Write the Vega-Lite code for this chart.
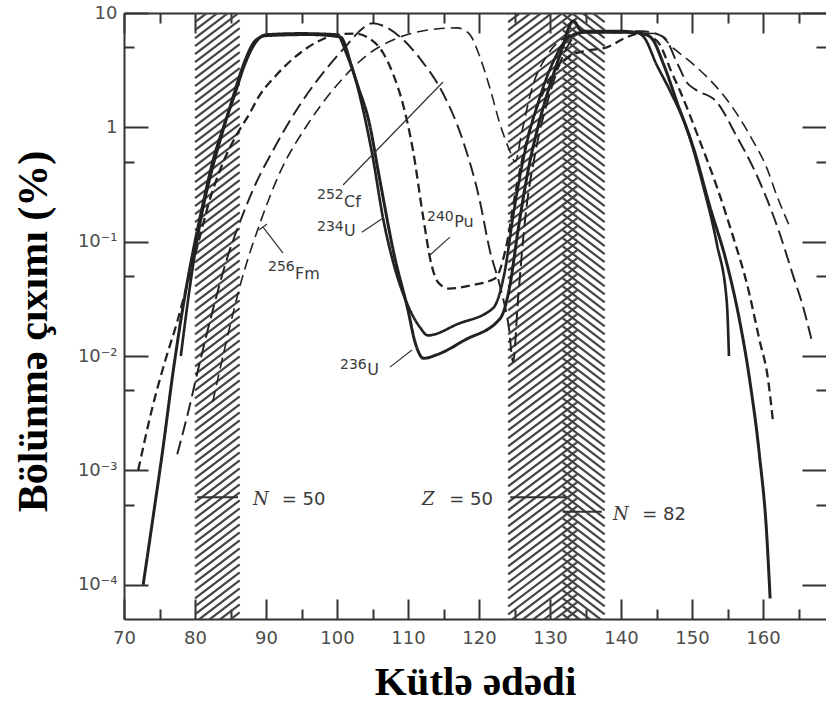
{
  "$schema": "https://vega.github.io/schema/vega-lite/v6.json",
  "width": 702,
  "height": 606,
  "autosize": {"type": "none"},
  "padding": {"left": 124, "top": 13, "right": 0, "bottom": 85},
  "background": "white",
  "config": {
    "view": {"stroke": null},
    "axis": {"grid": false, "domainColor": "#333", "domainWidth": 2, "tickColor": "#333", "tickWidth": 2, "labelFont": "DejaVu Sans", "labelFontSize": 18, "labelColor": "#4d4d4d"}
  },
  "datasets": {
    "hatch": [{"e":-4.82},{"e":-4.75},{"e":-4.68},{"e":-4.61},{"e":-4.54},{"e":-4.47},{"e":-4.40},{"e":-4.33},{"e":-4.26},{"e":-4.19},{"e":-4.12},{"e":-4.05},{"e":-3.98},{"e":-3.91},{"e":-3.84},{"e":-3.77},{"e":-3.70},{"e":-3.63},{"e":-3.56},{"e":-3.49},{"e":-3.42},{"e":-3.35},{"e":-3.28},{"e":-3.21},{"e":-3.14},{"e":-3.07},{"e":-3.00},{"e":-2.93},{"e":-2.86},{"e":-2.79},{"e":-2.72},{"e":-2.65},{"e":-2.58},{"e":-2.51},{"e":-2.44},{"e":-2.37},{"e":-2.30},{"e":-2.23},{"e":-2.16},{"e":-2.09},{"e":-2.02},{"e":-1.95},{"e":-1.88},{"e":-1.81},{"e":-1.74},{"e":-1.67},{"e":-1.60},{"e":-1.53},{"e":-1.46},{"e":-1.39},{"e":-1.32},{"e":-1.25},{"e":-1.18},{"e":-1.11},{"e":-1.04},{"e":-0.97},{"e":-0.90},{"e":-0.83},{"e":-0.76},{"e":-0.69},{"e":-0.62},{"e":-0.55},{"e":-0.48},{"e":-0.41},{"e":-0.34},{"e":-0.27},{"e":-0.20},{"e":-0.13},{"e":-0.06},{"e":0.01},{"e":0.08},{"e":0.15},{"e":0.22},{"e":0.29},{"e":0.36},{"e":0.43},{"e":0.50},{"e":0.57},{"e":0.64},{"e":0.71},{"e":0.78},{"e":0.85},{"e":0.92},{"e":0.99},{"e":1.06},{"e":1.13},{"e":1.20},{"e":1.27},{"e":1.34}],
    "curves": [
      {"i":"236U","A":72.7,"Y":0.0001},{"i":"236U","A":74,"Y":0.000355},{"i":"236U","A":75.5,"Y":0.00158},{"i":"236U","A":77,"Y":0.00794},{"i":"236U","A":78.5,"Y":0.0316},{"i":"236U","A":80,"Y":0.1},{"i":"236U","A":81.2,"Y":0.224},{"i":"236U","A":82.5,"Y":0.501},{"i":"236U","A":84,"Y":1.0},{"i":"236U","A":85.5,"Y":1.862},{"i":"236U","A":87,"Y":3.548},{"i":"236U","A":88.5,"Y":5.495},{"i":"236U","A":90,"Y":6.457},{"i":"236U","A":95,"Y":6.607},{"i":"236U","A":100,"Y":6.457},{"i":"236U","A":101.5,"Y":4.169},{"i":"236U","A":103,"Y":2.239},{"i":"236U","A":104.5,"Y":1.122},{"i":"236U","A":106,"Y":0.3548},{"i":"236U","A":108,"Y":0.0794},{"i":"236U","A":110,"Y":0.0251},{"i":"236U","A":111,"Y":0.01318},{"i":"236U","A":112.2,"Y":0.00955},{"i":"236U","A":114,"Y":0.01023},{"i":"236U","A":118,"Y":0.0138},{"i":"236U","A":123,"Y":0.02138},{"i":"236U","A":124.3,"Y":0.0398},{"i":"236U","A":125.5,"Y":0.1259},{"i":"236U","A":127,"Y":0.4467},{"i":"236U","A":128.5,"Y":1.122},{"i":"236U","A":130,"Y":2.344},{"i":"236U","A":131.5,"Y":4.467},{"i":"236U","A":133.3,"Y":8.511},{"i":"236U","A":134.5,"Y":6.918},{"i":"236U","A":140,"Y":6.918},{"i":"236U","A":143,"Y":6.607},{"i":"236U","A":144.3,"Y":6.026},{"i":"236U","A":146,"Y":3.548},{"i":"236U","A":148,"Y":1.585},{"i":"236U","A":150.2,"Y":0.6607},{"i":"236U","A":152.5,"Y":0.2042},{"i":"236U","A":154.9,"Y":0.06457},{"i":"236U","A":156.7,"Y":0.02042},{"i":"236U","A":158.1,"Y":0.00631},{"i":"236U","A":159.5,"Y":0.00135},{"i":"236U","A":160.5,"Y":0.000288},{"i":"236U","A":161,"Y":0.0000759},
      {"i":"234U","A":78,"Y":0.01},{"i":"234U","A":79.5,"Y":0.0501},{"i":"234U","A":81,"Y":0.1778},{"i":"234U","A":82.5,"Y":0.4467},{"i":"234U","A":84,"Y":0.955},{"i":"234U","A":85.5,"Y":1.995},{"i":"234U","A":87,"Y":3.802},{"i":"234U","A":88.5,"Y":5.754},{"i":"234U","A":90,"Y":6.31},{"i":"234U","A":96,"Y":6.457},{"i":"234U","A":100.5,"Y":6.166},{"i":"234U","A":102,"Y":3.548},{"i":"234U","A":103.5,"Y":1.585},{"i":"234U","A":105,"Y":0.5623},{"i":"234U","A":106.5,"Y":0.1585},{"i":"234U","A":108,"Y":0.0631},{"i":"234U","A":110,"Y":0.02754},{"i":"234U","A":111.7,"Y":0.01778},{"i":"234U","A":112.8,"Y":0.01514},{"i":"234U","A":117,"Y":0.01905},{"i":"234U","A":122,"Y":0.0263},{"i":"234U","A":123.5,"Y":0.0501},{"i":"234U","A":125,"Y":0.1995},{"i":"234U","A":126.5,"Y":0.631},{"i":"234U","A":128.5,"Y":1.778},{"i":"234U","A":130.5,"Y":3.802},{"i":"234U","A":132.5,"Y":6.026},{"i":"234U","A":134.5,"Y":6.761},{"i":"234U","A":142,"Y":6.761},{"i":"234U","A":143.2,"Y":6.166},{"i":"234U","A":145,"Y":3.548},{"i":"234U","A":146.9,"Y":2.089},{"i":"234U","A":149.3,"Y":0.955},{"i":"234U","A":151.6,"Y":0.302},{"i":"234U","A":153.5,"Y":0.0955},{"i":"234U","A":154.9,"Y":0.02951},{"i":"234U","A":155.2,"Y":0.01},
      {"i":"240Pu","A":72,"Y":0.001},{"i":"240Pu","A":74,"Y":0.00355},{"i":"240Pu","A":76,"Y":0.01},{"i":"240Pu","A":77.5,"Y":0.01995},{"i":"240Pu","A":79,"Y":0.04467},{"i":"240Pu","A":80.5,"Y":0.1},{"i":"240Pu","A":82,"Y":0.2239},{"i":"240Pu","A":84,"Y":0.5012},{"i":"240Pu","A":86,"Y":0.8913},{"i":"240Pu","A":87.5,"Y":1.259},{"i":"240Pu","A":89,"Y":1.862},{"i":"240Pu","A":91.5,"Y":2.884},{"i":"240Pu","A":94.8,"Y":4.467},{"i":"240Pu","A":97.6,"Y":5.754},{"i":"240Pu","A":100,"Y":6.457},{"i":"240Pu","A":102.5,"Y":6.607},{"i":"240Pu","A":104.5,"Y":6.026},{"i":"240Pu","A":106.5,"Y":4.467},{"i":"240Pu","A":108,"Y":2.818},{"i":"240Pu","A":109.3,"Y":1.585},{"i":"240Pu","A":110.7,"Y":0.631},{"i":"240Pu","A":112.1,"Y":0.1698},{"i":"240Pu","A":113.3,"Y":0.0631},{"i":"240Pu","A":114.3,"Y":0.04365},{"i":"240Pu","A":115.8,"Y":0.0389},{"i":"240Pu","A":119,"Y":0.04169},{"i":"240Pu","A":122.3,"Y":0.04786},{"i":"240Pu","A":123.8,"Y":0.0891},{"i":"240Pu","A":125.2,"Y":0.2818},{"i":"240Pu","A":127,"Y":0.8913},{"i":"240Pu","A":129,"Y":1.995},{"i":"240Pu","A":131,"Y":3.311},{"i":"240Pu","A":133,"Y":4.266},{"i":"240Pu","A":135,"Y":4.677},{"i":"240Pu","A":138,"Y":5.012},{"i":"240Pu","A":140.5,"Y":6.026},{"i":"240Pu","A":142.5,"Y":6.607},{"i":"240Pu","A":144,"Y":6.31},{"i":"240Pu","A":145.5,"Y":5.248},{"i":"240Pu","A":147,"Y":3.162},{"i":"240Pu","A":148.3,"Y":2.089},{"i":"240Pu","A":151.1,"Y":0.7586},{"i":"240Pu","A":153.5,"Y":0.302},{"i":"240Pu","A":155.8,"Y":0.1096},{"i":"240Pu","A":157.7,"Y":0.04365},{"i":"240Pu","A":159.5,"Y":0.0138},{"i":"240Pu","A":160.7,"Y":0.00631},{"i":"240Pu","A":161.4,"Y":0.00269},
      {"i":"252Cf","A":77.5,"Y":0.00138},{"i":"252Cf","A":79,"Y":0.00316},{"i":"252Cf","A":80.7,"Y":0.00891},{"i":"252Cf","A":82.5,"Y":0.0251},{"i":"252Cf","A":84.5,"Y":0.0708},{"i":"252Cf","A":86.5,"Y":0.1585},{"i":"252Cf","A":88.5,"Y":0.3162},{"i":"252Cf","A":91,"Y":0.631},{"i":"252Cf","A":94.8,"Y":1.585},{"i":"252Cf","A":98.6,"Y":3.311},{"i":"252Cf","A":101.4,"Y":5.248},{"i":"252Cf","A":103.5,"Y":7.244},{"i":"252Cf","A":105,"Y":8.128},{"i":"252Cf","A":106.8,"Y":7.586},{"i":"252Cf","A":108.9,"Y":6.166},{"i":"252Cf","A":111.7,"Y":3.981},{"i":"252Cf","A":114.9,"Y":1.995},{"i":"252Cf","A":117.7,"Y":0.7762},{"i":"252Cf","A":120.1,"Y":0.2291},{"i":"252Cf","A":121.5,"Y":0.0851},{"i":"252Cf","A":123,"Y":0.0398},{"i":"252Cf","A":124.2,"Y":0.01778},{"i":"252Cf","A":124.8,"Y":0.00891},{"i":"252Cf","A":125.5,"Y":0.0316},{"i":"252Cf","A":126.5,"Y":0.1585},{"i":"252Cf","A":128,"Y":0.631},{"i":"252Cf","A":130,"Y":1.995},{"i":"252Cf","A":132,"Y":4.467},{"i":"252Cf","A":134,"Y":6.607},{"i":"252Cf","A":136,"Y":6.918},{"i":"252Cf","A":143,"Y":6.918},{"i":"252Cf","A":146,"Y":6.166},{"i":"252Cf","A":148,"Y":3.548},{"i":"252Cf","A":149.3,"Y":2.455},{"i":"252Cf","A":150.5,"Y":2.138},{"i":"252Cf","A":153.5,"Y":1.66},{"i":"252Cf","A":156.3,"Y":0.8318},{"i":"252Cf","A":158.6,"Y":0.4467},{"i":"252Cf","A":160.5,"Y":0.2399},{"i":"252Cf","A":162.3,"Y":0.1202},{"i":"252Cf","A":164.2,"Y":0.05129},{"i":"252Cf","A":165.6,"Y":0.02754},{"i":"252Cf","A":166.8,"Y":0.01413},
      {"i":"256Fm","A":82.5,"Y":0.00398},{"i":"256Fm","A":84.5,"Y":0.01413},{"i":"256Fm","A":86.5,"Y":0.04467},{"i":"256Fm","A":89.2,"Y":0.1479},{"i":"256Fm","A":92,"Y":0.4074},{"i":"256Fm","A":95.8,"Y":1.047},{"i":"256Fm","A":100,"Y":2.344},{"i":"256Fm","A":104.2,"Y":4.266},{"i":"256Fm","A":108.5,"Y":6.026},{"i":"256Fm","A":111,"Y":6.761},{"i":"256Fm","A":114,"Y":7.244},{"i":"256Fm","A":116.9,"Y":7.413},{"i":"256Fm","A":118.6,"Y":6.607},{"i":"256Fm","A":120.1,"Y":4.169},{"i":"256Fm","A":121.5,"Y":2.239},{"i":"256Fm","A":123,"Y":1.047},{"i":"256Fm","A":124.3,"Y":0.631},{"i":"256Fm","A":125.1,"Y":0.5012},{"i":"256Fm","A":126,"Y":0.8913},{"i":"256Fm","A":127.5,"Y":2.239},{"i":"256Fm","A":129.5,"Y":4.169},{"i":"256Fm","A":132,"Y":6.026},{"i":"256Fm","A":135,"Y":6.761},{"i":"256Fm","A":145,"Y":6.607},{"i":"256Fm","A":147.4,"Y":4.898},{"i":"256Fm","A":150.2,"Y":3.548},{"i":"256Fm","A":153.9,"Y":2.089},{"i":"256Fm","A":156.3,"Y":1.318},{"i":"256Fm","A":158.6,"Y":0.7586},{"i":"256Fm","A":160.5,"Y":0.4467},{"i":"256Fm","A":161.9,"Y":0.257},{"i":"256Fm","A":163.7,"Y":0.138}
    ],
    "leaders": [
      {"x":100.85,"y":0.313,"x2":114.93,"y2":2.49},
      {"x":103.5,"y":0.121,"x2":106.5,"y2":0.161},
      {"x":113.1,"y":0.0764,"x2":115.9,"y2":0.1097},
      {"x":92.4,"y":0.0794,"x2":89.58,"y2":0.134},
      {"x":89.01,"y":0.1265,"x2":90.14,"y2":0.1426},
      {"x":107.46,"y":0.0080,"x2":110.56,"y2":0.01127}
    ],
    "shells": [
      {"x":80.3,"x2":86.06,"y":0.000583},
      {"x":124.4,"x2":132.4,"y":0.000583},
      {"x":131.8,"x2":137.3,"y":0.000434}
    ],
    "mass": [
      {"t":"252","x":97.18,"y":0.256},
      {"t":"234","x":97.18,"y":0.134},
      {"t":"256","x":90.28,"y":0.060},
      {"t":"240","x":112.68,"y":0.164},
      {"t":"236","x":100.42,"y":0.00832}
    ],
    "sym": [
      {"t":"Cf","x":101.0,"y":0.222},
      {"t":"U","x":101.0,"y":0.124},
      {"t":"Fm","x":94.1,"y":0.0521},
      {"t":"Pu","x":116.5,"y":0.148},
      {"t":"U","x":104.25,"y":0.00753}
    ],
    "shellLetter": [
      {"t":"N","x":88.17,"y":0.00055},
      {"t":"Z","x":111.97,"y":0.00055},
      {"t":"N","x":138.87,"y":0.000407}
    ],
    "shellValue": [
      {"t":"= 50","x":92.2,"y":0.00055},
      {"t":"= 50","x":115.8,"y":0.00055},
      {"t":"= 82","x":143.0,"y":0.000407}
    ]
  },
  "resolve": {"scale": {"y": "independent"}, "axis": {"x": "independent", "y": "independent"}},
  "layer": [
    {
      "data": {"name": "hatch"},
      "mark": {"type": "rule", "clip": true, "stroke": "#444", "strokeWidth": 2.2, "y2Offset": -34},
      "encoding": {
        "x": {"datum": 80, "type": "quantitative", "scale": {"domain": [70, 168.87], "nice": false, "zero": false}, "axis": null},
        "x2": {"datum": 86.3},
        "y": {"field": "e", "type": "quantitative", "scale": {"domain": [-4.3, 1], "nice": false, "zero": false}, "axis": null},
        "y2": {"field": "e"}
      }
    },
    {
      "data": {"name": "hatch"},
      "mark": {"type": "rule", "clip": true, "stroke": "#444", "strokeWidth": 2.2, "y2Offset": -52},
      "encoding": {
        "x": {"datum": 124.1, "type": "quantitative", "scale": {"domain": [70, 168.87], "nice": false, "zero": false}, "axis": null},
        "x2": {"datum": 133.8},
        "y": {"field": "e", "type": "quantitative", "scale": {"domain": [-4.3, 1], "nice": false, "zero": false}, "axis": null},
        "y2": {"field": "e"}
      }
    },
    {
      "data": {"name": "hatch"},
      "mark": {"type": "rule", "clip": true, "stroke": "#444", "strokeWidth": 2.2, "y2Offset": 32},
      "encoding": {
        "x": {"datum": 131.8, "type": "quantitative", "scale": {"domain": [70, 168.87], "nice": false, "zero": false}, "axis": null},
        "x2": {"datum": 137.7},
        "y": {"field": "e", "type": "quantitative", "scale": {"domain": [-4.3, 1], "nice": false, "zero": false}, "axis": null},
        "y2": {"field": "e"}
      }
    },
    {
      "data": {"name": "shells"},
      "mark": {"type": "rule", "stroke": "#333", "strokeWidth": 2},
      "encoding": {
        "x": {"field": "x", "type": "quantitative", "scale": {"domain": [70, 168.87], "nice": false, "zero": false}, "axis": null},
        "x2": {"field": "x2"},
        "y": {"field": "y", "type": "quantitative", "scale": {"type": "log", "domain": [0.000050119, 10], "nice": false}, "axis": null}
      }
    },
    {
      "data": {"name": "curves"},
      "mark": {"type": "line", "interpolate": "monotone", "stroke": "#222", "strokeCap": "butt"},
      "encoding": {
        "x": {"field": "A", "type": "quantitative", "scale": {"domain": [70, 168.87], "nice": false, "zero": false},
          "axis": {"orient": "bottom", "values": [70,75,80,85,90,95,100,105,110,115,120,125,130,135,140,145,150,155,160,165],
            "tickSize": {"condition": {"test": "datum.value % 10 === 0", "value": -20}, "value": -10},
            "labelExpr": "datum.value % 10 === 0 ? datum.label : ''",
            "labelPadding": 30, "labelFlush": false, "labelOverlap": false,
            "title": "Kütlə ədədi", "titleFont": "Liberation Serif", "titleFontWeight": "bold", "titleFontSize": 41, "titleColor": "#000", "titlePadding": 5}},
        "y": {"field": "Y", "type": "quantitative", "scale": {"type": "log", "domain": [0.000050119, 10], "nice": false},
          "axis": {"orient": "left", "values": [0.0001, 0.0005, 0.001, 0.005, 0.01, 0.05, 0.1, 0.5, 1, 5, 10],
            "tickSize": {"condition": {"test": "abs(log(datum.value)/LN10 - round(log(datum.value)/LN10)) < 0.01", "value": -24}, "value": -10},
            "labelExpr": "abs(log(datum.value)/LN10 - round(log(datum.value)/LN10)) > 0.01 ? '' : round(log(datum.value)/LN10) == 1 ? '10' : round(log(datum.value)/LN10) == 0 ? '1' : '10⁻' + ['', '¹', '²', '³', '⁴'][-round(log(datum.value)/LN10)]",
            "labelPadding": 31, "labelOverlap": false, "labelFlush": false,
            "title": "Bölünmə çıxımı (%)", "titleFont": "Liberation Serif", "titleFontWeight": "bold", "titleFontSize": 42, "titleColor": "#000", "titlePadding": 22, "titleY": 318}},
        "detail": {"field": "i"},
        "strokeDash": {"field": "i", "type": "nominal", "scale": {"domain": ["236U", "234U", "240Pu", "252Cf", "256Fm"], "range": [[1, 0], [1, 0], [9, 5], [14, 6], [11, 6]]}, "legend": null},
        "strokeWidth": {"field": "i", "type": "ordinal", "scale": {"domain": ["236U", "234U", "240Pu", "252Cf", "256Fm"], "range": [3, 1.6, 1.8, 3, 1.6]}, "legend": null}
      }
    },
    {
      "data": {"name": "leaders"},
      "mark": {"type": "rule", "stroke": "#333", "strokeWidth": 1.2},
      "encoding": {
        "x": {"field": "x", "type": "quantitative", "scale": {"domain": [70, 168.87], "nice": false, "zero": false}, "axis": null},
        "x2": {"field": "x2"},
        "y": {"field": "y", "type": "quantitative", "scale": {"type": "log", "domain": [0.000050119, 10], "nice": false}, "axis": null},
        "y2": {"field": "y2"}
      }
    },
    {
      "data": {"name": "mass"},
      "mark": {"type": "text", "align": "left", "baseline": "middle", "font": "DejaVu Sans", "fontSize": 14, "fill": "#3a3a3a"},
      "encoding": {
        "x": {"field": "x", "type": "quantitative", "scale": {"domain": [70, 168.87], "nice": false, "zero": false},
          "axis": {"orient": "top", "values": [70,75,80,85,90,95,100,105,110,115,120,125,130,135,140,145,150,155,160,165],
            "tickSize": {"condition": {"test": "datum.value % 10 === 0", "value": -20}, "value": -10},
            "labels": false, "title": null}},
        "y": {"field": "y", "type": "quantitative", "scale": {"type": "log", "domain": [0.000050119, 10], "nice": false},
          "axis": {"orient": "right", "values": [0.0001, 0.0005, 0.001, 0.005, 0.01, 0.05, 0.1, 0.5, 1, 5, 10],
            "tickSize": {"condition": {"test": "abs(log(datum.value)/LN10 - round(log(datum.value)/LN10)) < 0.01", "value": -24}, "value": -10},
            "labels": false, "domain": false, "title": null}},
        "text": {"field": "t"}
      }
    },
    {
      "data": {"name": "sym"},
      "mark": {"type": "text", "align": "left", "baseline": "middle", "font": "DejaVu Sans", "fontSize": 16, "fill": "#3a3a3a"},
      "encoding": {
        "x": {"field": "x", "type": "quantitative", "scale": {"domain": [70, 168.87], "nice": false, "zero": false}, "axis": null},
        "y": {"field": "y", "type": "quantitative", "scale": {"type": "log", "domain": [0.000050119, 10], "nice": false}, "axis": null},
        "text": {"field": "t"}
      }
    },
    {
      "data": {"name": "shellLetter"},
      "mark": {"type": "text", "align": "left", "baseline": "middle", "font": "DejaVu Serif", "fontStyle": "italic", "fontSize": 18, "fill": "#3a3a3a"},
      "encoding": {
        "x": {"field": "x", "type": "quantitative", "scale": {"domain": [70, 168.87], "nice": false, "zero": false}, "axis": null},
        "y": {"field": "y", "type": "quantitative", "scale": {"type": "log", "domain": [0.000050119, 10], "nice": false}, "axis": null},
        "text": {"field": "t"}
      }
    },
    {
      "data": {"name": "shellValue"},
      "mark": {"type": "text", "align": "left", "baseline": "middle", "font": "DejaVu Sans", "fontSize": 18, "fill": "#3a3a3a"},
      "encoding": {
        "x": {"field": "x", "type": "quantitative", "scale": {"domain": [70, 168.87], "nice": false, "zero": false}, "axis": null},
        "y": {"field": "y", "type": "quantitative", "scale": {"type": "log", "domain": [0.000050119, 10], "nice": false}, "axis": null},
        "text": {"field": "t"}
      }
    }
  ]
}
